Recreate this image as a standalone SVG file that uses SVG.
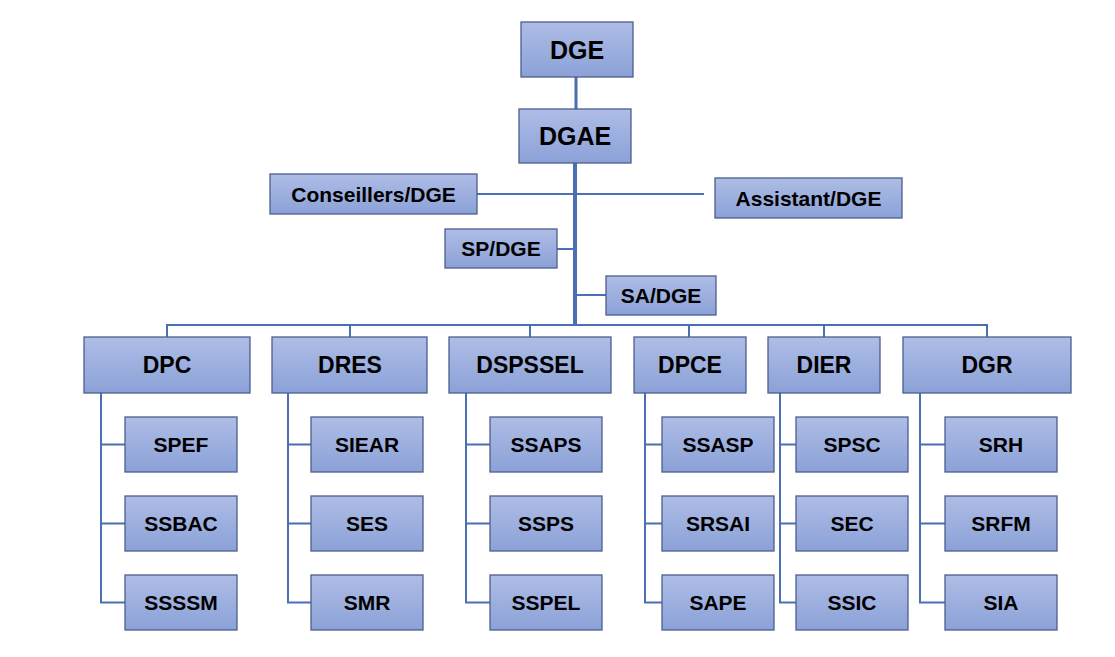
<svg xmlns="http://www.w3.org/2000/svg" width="1115" height="657" viewBox="0 0 1115 657">
<defs>
<linearGradient id="g" x1="0" y1="0" x2="0" y2="1">
<stop offset="0" stop-color="#aebde6"/>
<stop offset="1" stop-color="#8ba1d7"/>
</linearGradient>
<style>
.b{fill:url(#g);stroke:#4d5e8c;stroke-width:1.3}
.t{font-family:"Liberation Sans",Arial,sans-serif;font-weight:bold;fill:#000;text-anchor:middle;dominant-baseline:central}
.t1{font-size:25px}
.t2{font-size:23px}
.t3{font-size:21px}
.c line,.c path{stroke:#4a6fb3;stroke-width:2;fill:none}
</style>
</defs>
<rect width="1115" height="657" fill="#fff"/>
<g class="c" id="connectors">
<line x1="576" y1="77" x2="576" y2="109" style="stroke-width:3"/>
<line x1="575" y1="163" x2="575" y2="326" style="stroke-width:4"/>
<line x1="477" y1="194" x2="704" y2="194"/>
<line x1="557" y1="249" x2="575" y2="249"/>
<line x1="575" y1="295" x2="606" y2="295"/>
<line x1="166" y1="325" x2="988" y2="325"/>
<line x1="167" y1="325" x2="167" y2="337"/>
<line x1="350" y1="325" x2="350" y2="337"/>
<line x1="530" y1="325" x2="530" y2="337"/>
<line x1="689" y1="325" x2="689" y2="337"/>
<line x1="824" y1="325" x2="824" y2="337"/>
<line x1="987" y1="325" x2="987" y2="337"/>
<path d="M101 393V602.5H125M101 444.5H125M101 523.5H125"/>
<path d="M288 393V602.5H311M288 444.5H311M288 523.5H311"/>
<path d="M466 393V602.5H490M466 444.5H490M466 523.5H490"/>
<path d="M645 393V602.5H662M645 444.5H662M645 523.5H662"/>
<path d="M780 393V602.5H796M780 444.5H796M780 523.5H796"/>
<path d="M920 393V602.5H945M920 444.5H945M920 523.5H945"/>
</g>
<g id="DGE"><rect class="b" x="521" y="22" width="112" height="55"/><text class="t t1" x="577" y="50">DGE</text></g>
<g id="DGAE"><rect class="b" x="519" y="109" width="112" height="54"/><text class="t t1" x="575" y="136">DGAE</text></g>
<g id="Conseillers"><rect class="b" x="270" y="174" width="207" height="40"/><text class="t t3" x="373.5" y="194">Conseillers/DGE</text></g>
<g id="Assistant"><rect class="b" x="715" y="178" width="187" height="40"/><text class="t t3" x="808.5" y="198">Assistant/DGE</text></g>
<g id="SP"><rect class="b" x="445" y="229" width="112" height="39"/><text class="t t3" x="501" y="248.5">SP/DGE</text></g>
<g id="SA"><rect class="b" x="606" y="276" width="110" height="39"/><text class="t t3" x="661" y="295.5">SA/DGE</text></g>
<g id="DPC"><rect class="b" x="84" y="337" width="166" height="56"/><text class="t t2" x="167" y="365">DPC</text></g>
<g id="DRES"><rect class="b" x="272" y="337" width="155" height="56"/><text class="t t2" x="350" y="365">DRES</text></g>
<g id="DSPSSEL"><rect class="b" x="449" y="337" width="162" height="56"/><text class="t t2" x="530" y="365">DSPSSEL</text></g>
<g id="DPCE"><rect class="b" x="634" y="337" width="112" height="56"/><text class="t t2" x="690" y="365">DPCE</text></g>
<g id="DIER"><rect class="b" x="768" y="337" width="112" height="56"/><text class="t t2" x="824" y="365">DIER</text></g>
<g id="DGR"><rect class="b" x="903" y="337" width="168" height="56"/><text class="t t2" x="987" y="365">DGR</text></g>
<g id="SPEF"><rect class="b" x="125" y="417" width="112" height="55"/><text class="t t3" x="181" y="444.5">SPEF</text></g>
<g id="SSBAC"><rect class="b" x="125" y="496" width="112" height="55"/><text class="t t3" x="181" y="523.5">SSBAC</text></g>
<g id="SSSSM"><rect class="b" x="125" y="575" width="112" height="55"/><text class="t t3" x="181" y="602.5">SSSSM</text></g>
<g id="SIEAR"><rect class="b" x="311" y="417" width="112" height="55"/><text class="t t3" x="367" y="444.5">SIEAR</text></g>
<g id="SES"><rect class="b" x="311" y="496" width="112" height="55"/><text class="t t3" x="367" y="523.5">SES</text></g>
<g id="SMR"><rect class="b" x="311" y="575" width="112" height="55"/><text class="t t3" x="367" y="602.5">SMR</text></g>
<g id="SSAPS"><rect class="b" x="490" y="417" width="112" height="55"/><text class="t t3" x="546" y="444.5">SSAPS</text></g>
<g id="SSPS"><rect class="b" x="490" y="496" width="112" height="55"/><text class="t t3" x="546" y="523.5">SSPS</text></g>
<g id="SSPEL"><rect class="b" x="490" y="575" width="112" height="55"/><text class="t t3" x="546" y="602.5">SSPEL</text></g>
<g id="SSASP"><rect class="b" x="662" y="417" width="112" height="55"/><text class="t t3" x="718" y="444.5">SSASP</text></g>
<g id="SRSAI"><rect class="b" x="662" y="496" width="112" height="55"/><text class="t t3" x="718" y="523.5">SRSAI</text></g>
<g id="SAPE"><rect class="b" x="662" y="575" width="112" height="55"/><text class="t t3" x="718" y="602.5">SAPE</text></g>
<g id="SPSC"><rect class="b" x="796" y="417" width="112" height="55"/><text class="t t3" x="852" y="444.5">SPSC</text></g>
<g id="SEC"><rect class="b" x="796" y="496" width="112" height="55"/><text class="t t3" x="852" y="523.5">SEC</text></g>
<g id="SSIC"><rect class="b" x="796" y="575" width="112" height="55"/><text class="t t3" x="852" y="602.5">SSIC</text></g>
<g id="SRH"><rect class="b" x="945" y="417" width="112" height="55"/><text class="t t3" x="1001" y="444.5">SRH</text></g>
<g id="SRFM"><rect class="b" x="945" y="496" width="112" height="55"/><text class="t t3" x="1001" y="523.5">SRFM</text></g>
<g id="SIA"><rect class="b" x="945" y="575" width="112" height="55"/><text class="t t3" x="1001" y="602.5">SIA</text></g>
</svg>
